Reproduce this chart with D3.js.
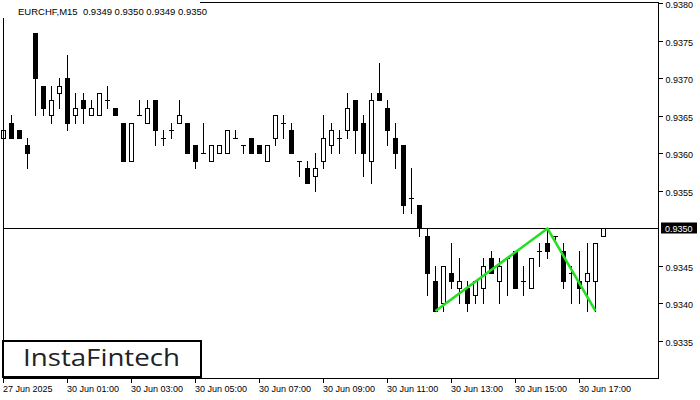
<!DOCTYPE html>
<html><head><meta charset="utf-8">
<script src="https://cdn.jsdelivr.net/npm/d3@7"></script>
<style>body{margin:0;background:#fff}svg{display:block}</style>
</head><body><svg id="c" width="700" height="400"></svg>
<script>
const title = "EURCHF,M15  0.9349 0.9350 0.9349 0.9350";
const open  = [0.9362,0.9364,0.9363,0.9361,0.9376,0.9369,0.9365,0.9368,0.9370,0.9365,
               0.9367,0.9365,0.9365,0.9367,0.9366,0.9364,0.9359,0.9365,0.9364,0.9367,
               0.9362,0.9363,0.9364,0.9364,0.9361,0.9360,0.9359,0.9360,0.9360,0.9362,
               0.9361,0.9362,0.9361,0.9359,0.9362,0.9364,0.9363,0.9359,0.9358,0.9357,
               0.9359,0.9361,0.9362,0.9363,0.9367,0.9364,0.9359,0.9368,0.9366,0.9362,
               0.9361,0.9354,0.9353,0.9349,0.9343,0.9340,0.9344,0.9342,0.9342,0.9341,
               0.9342,0.9346,0.9343,0.9346,0.9347,0.9343,0.9342,0.9347,0.9348,0.9349,
               0.9347,0.9344,0.9343,0.9343,0.9343,0.9349];
const high  = [0.9363,0.9365,0.9363,0.9362,0.9376,0.9369,0.9369,0.9370,0.9373,0.9368,
               0.9368,0.9367,0.9368,0.9369,0.9366,0.9364,0.9364,0.9367,0.9367,0.9367,
               0.9363,0.9364,0.9367,0.9364,0.9361,0.9364,0.9361,0.9361,0.9363,0.9363,
               0.9361,0.9362,0.9361,0.9361,0.9365,0.9365,0.9364,0.9359,0.9359,0.9360,
               0.9365,0.9364,0.9363,0.9368,0.9367,0.9365,0.9368,0.9372,0.9367,0.9364,
               0.9361,0.9358,0.9353,0.9350,0.9345,0.9345,0.9348,0.9346,0.9343,0.9343,
               0.9346,0.9347,0.9346,0.9346,0.9347,0.9345,0.9346,0.9348,0.9350,0.9349,
               0.9348,0.9345,0.9347,0.9348,0.9348,0.9350];
const low   = [0.9359,0.9362,0.9362,0.9358,0.9365,0.9365,0.9364,0.9366,0.9363,0.9364,
               0.9364,0.9365,0.9365,0.9366,0.9365,0.9359,0.9359,0.9365,0.9364,0.9361,
               0.9361,0.9362,0.9364,0.9360,0.9358,0.9360,0.9359,0.9360,0.9360,0.9362,
               0.9360,0.9360,0.9360,0.9359,0.9361,0.9362,0.9360,0.9357,0.9356,0.9355,
               0.9358,0.9360,0.9360,0.9362,0.9360,0.9357,0.9356,0.9367,0.9361,0.9358,
               0.9352,0.9352,0.9349,0.9341,0.9339,0.9339,0.9342,0.9340,0.9339,0.9340,
               0.9340,0.9344,0.9340,0.9341,0.9342,0.9341,0.9342,0.9345,0.9346,0.9348,
               0.9342,0.9340,0.9340,0.9339,0.9339,0.9349];
const close = [0.9363,0.9362,0.9362,0.9360,0.9370,0.9366,0.9367,0.9369,0.9364,0.9366,
               0.9366,0.9366,0.9368,0.9367,0.9365,0.9359,0.9364,0.9365,0.9366,0.9363,
               0.9362,0.9363,0.9365,0.9360,0.9359,0.9360,0.9361,0.9361,0.9363,0.9362,
               0.9361,0.9360,0.9360,0.9361,0.9365,0.9364,0.9360,0.9359,0.9356,0.9358,
               0.9362,0.9363,0.9362,0.9366,0.9363,0.9360,0.9367,0.9367,0.9363,0.9360,
               0.9353,0.9354,0.9350,0.9344,0.9339,0.9345,0.9343,0.9343,0.9340,0.9343,
               0.9345,0.9344,0.9345,0.9346,0.9342,0.9343,0.9346,0.9347,0.9347,0.9349,
               0.9343,0.9344,0.9342,0.9344,0.9348,0.9350];
const priceTicks = [0.9335,0.9340,0.9345,0.9355,0.9360,0.9365,0.9370,0.9375,0.9380];
const lastPrice = 0.9350;
const timeTickIdx = [0,8,16,24,32,40,48,56,64,72];
const timeTickLabels = ["27 Jun 2025","30 Jun 01:00","30 Jun 03:00","30 Jun 05:00","30 Jun 07:00",
                        "30 Jun 09:00","30 Jun 11:00","30 Jun 13:00","30 Jun 15:00","30 Jun 17:00"];
const patternIdx = [54,68,74];
const patternVal = [0.9339,0.9350,0.9339];
const logoText = "InstaFintech";

const svg = d3.select("#c");
const font = "'Liberation Sans', Arial, sans-serif";
const idx = d3.range(open.length);
const x = d3.scaleBand().domain(idx).range([-0.5, -0.5 + 8 * idx.length]);
const cx = i => x(i) + x.bandwidth() / 2;
const y = d3.scaleLinear().domain([0.9330, 0.9380]).range([378.5, 3.5]);
const sy = p => Math.round(y(p) - 0.5) + 0.5;

// candles
const cg = svg.append("g").attr("shape-rendering", "crispEdges");
cg.selectAll("line.wick").data(idx).join("line")
  .attr("x1", cx).attr("x2", cx)
  .attr("y1", i => sy(high[i]) - 0.5).attr("y2", i => sy(low[i]) + 0.5)
  .attr("stroke", "#000").attr("stroke-width", 1);
idx.forEach(i => {
  const o = open[i], c = close[i];
  const top = sy(Math.max(o, c)), bot = sy(Math.min(o, c));
  if (o === c) {
    cg.append("line").attr("x1", cx(i) - 2.5).attr("x2", cx(i) + 2.5)
      .attr("y1", top).attr("y2", top).attr("stroke", "#000");
  } else if (c < o) {
    cg.append("rect").attr("x", cx(i) - 2.5).attr("width", 5)
      .attr("y", top - 0.5).attr("height", bot - top + 1).attr("fill", "#000");
  } else {
    cg.append("rect").attr("x", cx(i) - 2).attr("width", 4)
      .attr("y", top).attr("height", bot - top)
      .attr("fill", "#fff").attr("stroke", "#000").attr("stroke-width", 1);
  }
});

// last price line
svg.append("line").attr("x1", 3).attr("x2", 659)
  .attr("y1", sy(lastPrice)).attr("y2", sy(lastPrice))
  .attr("stroke", "#000").attr("stroke-width", 1).attr("shape-rendering", "crispEdges");

// pattern line
svg.append("path")
  .datum(patternIdx.map((d, j) => [d, patternVal[j]]))
  .attr("d", d3.line().x(d => cx(d[0])).y(d => y(d[1])))
  .attr("fill", "none").attr("stroke", "#22e022").attr("stroke-width", 2.5)
  .attr("stroke-linejoin", "round");

// border and title
svg.append("rect").attr("x", 3.5).attr("y", 2.5).attr("width", 655).attr("height", 376)
  .attr("fill", "none").attr("stroke", "#000").attr("stroke-width", 1)
  .attr("shape-rendering", "crispEdges");
svg.append("rect").attr("x", 0).attr("y", 0).attr("width", 200).attr("height", 18).attr("fill", "#fff");
svg.append("text").attr("x", 18).attr("y", 15).attr("font-family", font).attr("font-size", 9.5)
  .attr("fill", "#000").attr("xml:space", "preserve").style("white-space", "pre").text(title);

// y axis
const ya = svg.append("g").attr("transform", "translate(658.5,0)")
  .call(d3.axisRight(y).tickValues(priceTicks).tickSize(4).tickPadding(3).offset(0)
        .tickFormat(d3.format(".4f")));
ya.select(".domain").remove();
ya.selectAll("text").attr("font-family", font).attr("font-size", 9).attr("fill", "#000")
  .attr("dy", "0.5em");
ya.selectAll("line").attr("stroke", "#000").attr("shape-rendering", "crispEdges");

// price tag
svg.append("rect").attr("x", 661).attr("y", sy(lastPrice) - 6).attr("width", 36).attr("height", 11).attr("fill", "#000");
svg.append("text").attr("x", 665).attr("y", sy(lastPrice)).attr("dy", "0.35em")
  .attr("font-family", font).attr("font-size", 9).attr("fill", "#fff").text(d3.format(".4f")(lastPrice));

// x axis
const xa = svg.append("g").attr("transform", "translate(0,378.5)")
  .call(d3.axisBottom(x).tickValues(timeTickIdx).tickSize(4).offset(0)
        .tickFormat((d, j) => timeTickLabels[j]));
xa.select(".domain").remove();
xa.selectAll("line").attr("stroke", "#000").attr("shape-rendering", "crispEdges");
xa.selectAll("text").attr("font-family", font).attr("font-size", 9).attr("fill", "#000")
  .attr("text-anchor", "start").attr("x", -0.5).attr("y", 13).attr("dy", 0);

// logo
svg.append("rect").attr("x", 3).attr("y", 341).attr("width", 198).attr("height", 36)
  .attr("fill", "#fff").attr("stroke", "#000").attr("stroke-width", 2);
svg.append("text").attr("x", 23).attr("y", 366).attr("font-family", "'Open Sans', sans-serif")
  .attr("font-size", 23).attr("fill", "#222").attr("textLength", 157).attr("lengthAdjust", "spacingAndGlyphs")
  .text(logoText);
</script></body></html>
